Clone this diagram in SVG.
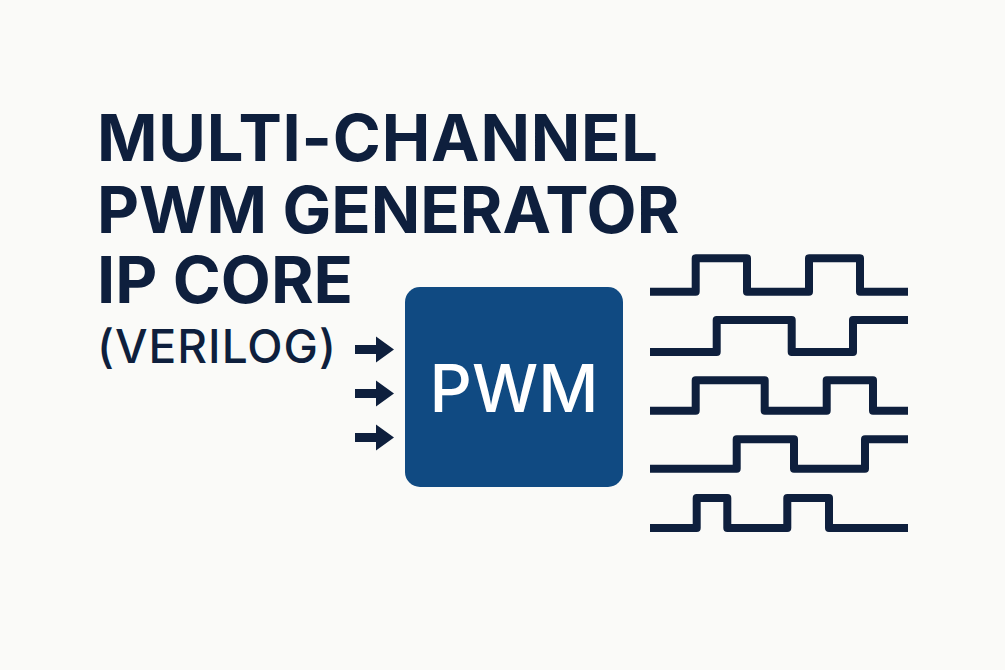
<svg xmlns="http://www.w3.org/2000/svg" width="1005" height="670" viewBox="0 0 1005 670">
<defs>
<style>
.title{font-family:Inter,"Liberation Sans",sans-serif;font-weight:700;font-size:65px;fill:#0e1f3d}
.sub{font-family:Inter,"Liberation Sans",sans-serif;font-weight:500;font-size:46px;letter-spacing:1px;fill:#0e1f3d}
.wave{fill:none;stroke:#0e1f3d;stroke-width:8;stroke-linejoin:round;stroke-linecap:butt}
.arrow{fill:#0e1f3d}
.lbl{font-family:Inter,"Liberation Sans",sans-serif;font-weight:500;font-size:66px;fill:#ffffff}
</style>
<path id="arr" d="M0,-4.5 H21 V-13 L39,0 L21,13 V4.5 H0 Z"/>
</defs>
<rect width="1005" height="670" fill="#fafaf8"/>
<g id="title">
<text class="title" x="97" y="161" letter-spacing="0.8">MULTI-CHANNEL</text>
<text class="title" x="97" y="233">PWM GENERATOR</text>
<text class="title" x="97" y="303">IP CORE</text>
<text class="sub" x="97" y="363">(VERILOG)</text>
</g>
<g id="connectors">
<use href="#arr" class="arrow" x="355" y="349.5"/>
<use href="#arr" class="arrow" x="355" y="393.5"/>
<use href="#arr" class="arrow" x="355" y="437.5"/>
</g>
<g id="pwm">
<rect x="405" y="287" width="218" height="200" rx="15" fill="#104a82"/>
<text class="lbl" x="514" y="411.5" text-anchor="middle">PWM</text>
</g>
<g id="waves">
<path class="wave" d="M650,291.7 H695.7 V258.3 H747 V291.7 H809 V258.3 H860 V291.7 H908"/>
<path class="wave" d="M650,352 H716.7 V320 H791.7 V352 H853 V320 H908"/>
<path class="wave" d="M650,410.7 H695.7 V380.3 H764.7 V410.7 H826.7 V380.3 H873 V410.7 H908"/>
<path class="wave" d="M650,468.7 H736.7 V439.3 H794 V468.7 H865 V439.3 H908"/>
<path class="wave" d="M650,528 H696.7 V498 H727.3 V528 H787.3 V498 H829 V528 H908"/>
</g>
</svg>
